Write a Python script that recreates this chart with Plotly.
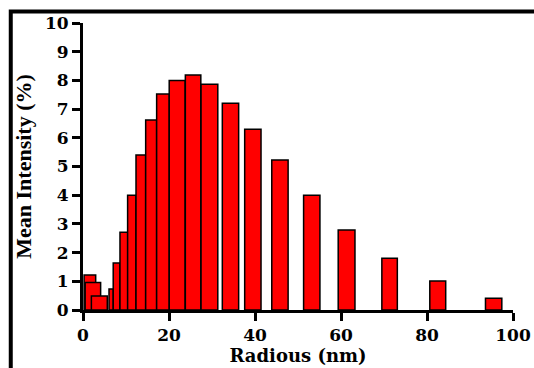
import plotly.graph_objects as go

# Data
radius_center = [1.6, 2.3, 3.8, 6.55, 7.8, 9.5, 11.35, 13.45, 15.85, 18.6, 21.9,
                 25.6, 29.4, 34.3, 39.5, 45.8, 53.2, 61.3, 71.3, 82.5, 95.5]
bin_width = [2.7, 3.6, 3.7, 1.0, 1.55, 1.8, 1.95, 2.25, 2.55, 2.95, 3.7,
             3.6, 3.9, 3.8, 3.8, 3.8, 3.8, 3.9, 3.6, 3.7, 3.8]
mean_intensity = [1.22, 0.96, 0.49, 0.73, 1.64, 2.71, 4.0, 5.4, 6.62, 7.53, 8.0,
                  8.19, 7.87, 7.2, 6.3, 5.23, 4.0, 2.79, 1.8, 1.01, 0.41]
x_ticks = [0, 20, 40, 60, 80, 100]
y_ticks = [0, 1, 2, 3, 4, 5, 6, 7, 8, 9, 10]

fig = go.Figure()
fig.add_trace(go.Bar(
    x=radius_center, y=mean_intensity, width=bin_width,
    marker=dict(color="#ff0000", line=dict(color="black", width=1.5)),
))

tick_font = dict(family="DejaVu Serif", size=17, color="black", weight="bold")

fig.update_layout(
    width=534, height=368,
    margin=dict(l=83, r=21, t=23, b=58, autoexpand=False),
    paper_bgcolor="white", plot_bgcolor="white",
    barmode="overlay",
    showlegend=False,
    xaxis=dict(
        range=[0, 100], tickvals=x_ticks, showgrid=False, zeroline=False,
        automargin=False,
        showline=True, linecolor="black", linewidth=3,
        ticks="outside", ticklen=8, tickwidth=3, tickcolor="black",
        tickfont=tick_font,
        title=dict(text="Radious (nm)", standoff=4,
                   font=dict(family="DejaVu Serif", size=18, color="black", weight="bold")),
    ),
    yaxis=dict(
        range=[0, 10], tickvals=y_ticks, showgrid=False, zeroline=False,
        automargin=False,
        showline=True, linecolor="black", linewidth=3,
        ticks="outside", ticklen=8, tickwidth=3, tickcolor="black",
        tickfont=tick_font,
        title=dict(text="Mean Intensity (%)", standoff=8,
                   font=dict(family="Liberation Serif", size=22, color="black", weight="bold")),
    ),
    shapes=[dict(type="rect", xref="paper", yref="paper",
                 x0=-0.168, x1=1.2, y0=-0.3, y1=1.04,
                 line=dict(color="black", width=4), fillcolor="rgba(0,0,0,0)",
                 layer="above")],
)

fig.write_html("out.html", config={"displayModeBar": False},
               post_script="document.body.style.margin='0';")
